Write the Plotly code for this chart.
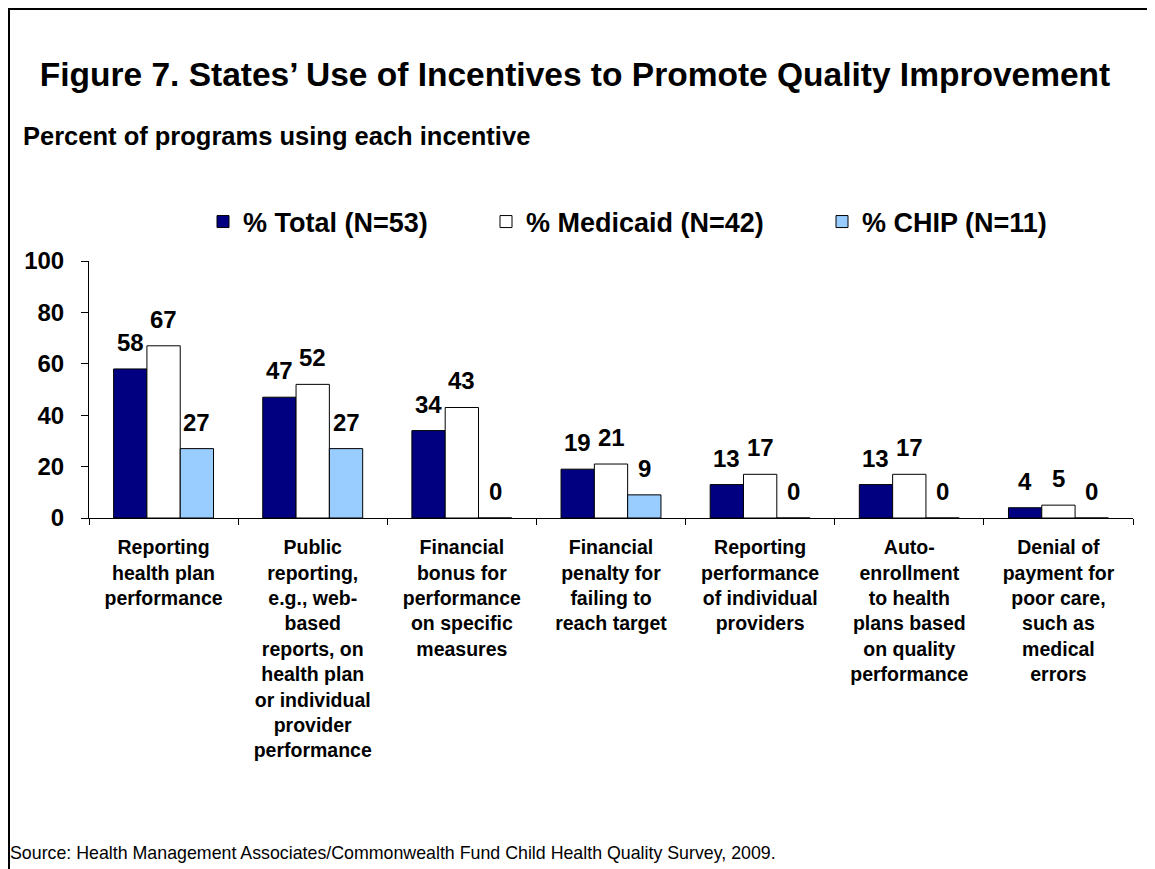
import plotly.graph_objects as go

categories = [
    "Reporting<br>health plan<br>performance",
    "Public<br>reporting,<br>e.g., web-<br>based<br>reports, on<br>health plan<br>or individual<br>provider<br>performance",
    "Financial<br>bonus for<br>performance<br>on specific<br>measures",
    "Financial<br>penalty for<br>failing to<br>reach target",
    "Reporting<br>performance<br>of individual<br>providers",
    "Auto-<br>enrollment<br>to health<br>plans based<br>on quality<br>performance",
    "Denial of<br>payment for<br>poor care,<br>such as<br>medical<br>errors",
]
total_vals = [58, 47, 34, 19, 13, 13, 4]
medicaid_vals = [67, 52, 43, 21, 17, 17, 5]
chip_vals = [27, 27, 0, 9, 0, 0, 0]
series_names = ["% Total (N=53)", "% Medicaid (N=42)", "% CHIP (N=11)"]
series_colors = ["#000080", "#FFFFFF", "#99CCFF"]
y_ticks = [0, 20, 40, 60, 80, 100]

FONT = "Liberation Sans, Arial, sans-serif"
OFF = 8                      # page body margin
W, H = 1155 - OFF, 869 - OFF  # figure size fitting the window
L = 89 - OFF
T = 261 - OFF
PLOT_BOTTOM = 518 - OFF
PLOT_RIGHT = 1133 - OFF
R = W - PLOT_RIGHT
B = H - PLOT_BOTTOM
PW, PH = W - L - R, H - T - B
BARGAP = 0.33
BAR_PX = PW / len(categories) * (1 - BARGAP) / 3


def fx(page_x):
    return (page_x - OFF - L) / PW


def fy(page_y):
    return (PLOT_BOTTOM - (page_y - OFF)) / PH


def bold(size):
    return dict(family=FONT, size=size, color="black", weight="bold")


legend_page_x = [203, 486, 822]
legend_names = ["legend", "legend2", "legend3"]

fig = go.Figure()
all_vals = [total_vals, medicaid_vals, chip_vals]
for i, (name, vals, col) in enumerate(zip(series_names, all_vals, series_colors)):
    fig.add_trace(go.Bar(
        x=categories, y=vals, name=name,
        marker=dict(color=col, line=dict(color="black", width=1)),
        legend=legend_names[i],
    ))
    for cat, v in zip(categories, vals):
        fig.add_annotation(
            x=cat, y=v, xref="x", yref="y", text=str(v), showarrow=False,
            yanchor="bottom", xanchor="center",
            xshift=(i - 1) * BAR_PX, yshift=11,
            font=bold(24),
        )

legend_common = dict(
    orientation="h", xanchor="left",
    yref="container", y=1 - (222 - OFF) / H, yanchor="middle",
    font=bold(27), bgcolor="rgba(0,0,0,0)", xref="container",
)

fig.update_layout(
    width=W, height=H,
    paper_bgcolor="white", plot_bgcolor="white",
    margin=dict(l=L, r=R, t=T, b=B, autoexpand=False),
    barmode="group", bargap=BARGAP, bargroupgap=0,
    font=dict(family=FONT, color="black"),
    showlegend=True,
    legend=dict(x=(legend_page_x[0] - OFF) / W, **legend_common),
    legend2=dict(x=(legend_page_x[1] - OFF) / W, **legend_common),
    legend3=dict(x=(legend_page_x[2] - OFF) / W, **legend_common),
    xaxis=dict(
        showline=True, linecolor="black", linewidth=1,
        ticks="outside", tickson="boundaries", ticklen=6, tickcolor="black",
        tickfont=bold(19.5), ticklabelstandoff=12,
        showgrid=False, automargin=False,
    ),
    yaxis=dict(
        range=[0, 100], tickvals=y_ticks,
        showline=True, linecolor="black", linewidth=1,
        ticks="outside", ticklen=7, tickcolor="black",
        tickfont=bold(24), ticklabelstandoff=12,
        showgrid=False, zeroline=False, automargin=False,
    ),
    title=dict(
        text="Figure 7. States’ Use of Incentives to Promote Quality Improvement",
        x=(575 - OFF) / W, xanchor="center",
        y=1 - (74 - OFF) / H, yref="container", yanchor="middle",
        font=bold(33.5),
    ),
)

fig.add_annotation(text="Percent of programs using each incentive",
                   xref="paper", yref="paper", x=fx(21), y=fy(136),
                   xanchor="left", yanchor="middle", showarrow=False,
                   font=bold(25.5))
fig.add_annotation(text="Source: Health Management Associates/Commonwealth Fund Child Health Quality Survey, 2009.",
                   xref="paper", yref="paper", x=fx(8), y=fy(853),
                   xanchor="left", yanchor="middle", showarrow=False,
                   font=dict(family=FONT, size=17.8, color="black"))

# frame lines (top and left), as close to the page edge as the figure allows
fig.add_shape(type="line", xref="paper", yref="paper",
              x0=fx(OFF), x1=fx(1155), y0=fy(OFF + 1), y1=fy(OFF + 1),
              line=dict(color="black", width=2))
fig.add_shape(type="line", xref="paper", yref="paper",
              x0=fx(OFF + 1), x1=fx(OFF + 1), y0=fy(OFF), y1=fy(869),
              line=dict(color="black", width=2))

fig.write_html("out.html")
